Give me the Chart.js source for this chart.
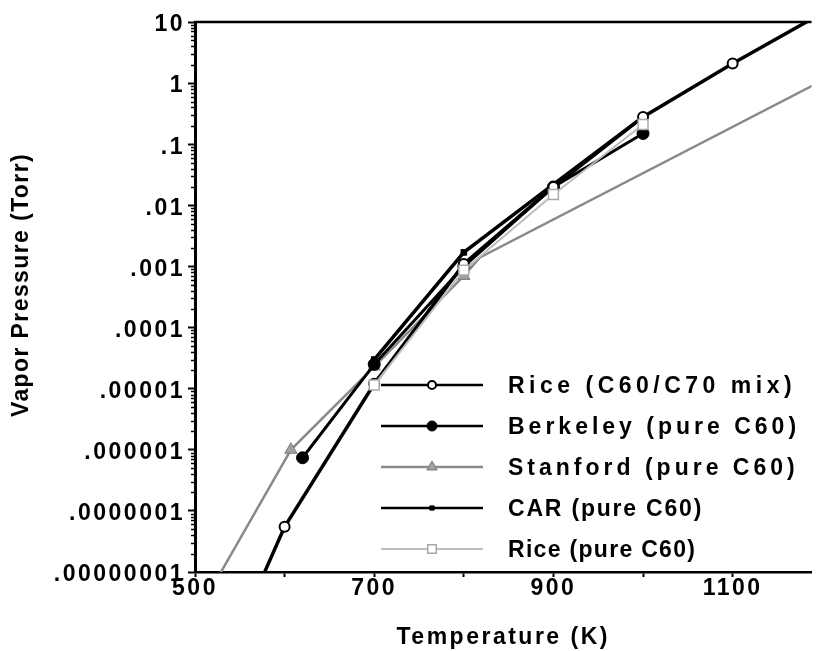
<!DOCTYPE html>
<html>
<head>
<meta charset="utf-8">
<title>C60 vapor pressure</title>
<script src="https://cdn.jsdelivr.net/npm/chart.js@4.4.1/dist/chart.umd.min.js"></script>
<style>
  html, body { margin: 0; padding: 0; background: #fff; }
  #wrap { width: 820px; height: 651px; }
</style>
</head>
<body>
<div id="wrap"><canvas id="vpChart" width="820" height="651"></canvas></div>
<script>
// temperature (K) / vapor pressure (Torr) per source
var riceMixT = [500, 600, 700, 800, 900, 1000, 1100, 1200];
var riceMixP = [2.6e-11, 5.5e-8, 1.2e-5, 1.1e-3, 0.02, 0.28, 2.1, 14];
var berkeleyT = [620, 700, 800, 900, 1000];
var berkeleyP = [7.4e-7, 2.5e-5, 1.0e-3, 0.02, 0.15];
var stanfordT = [500, 607, 700, 800, 818, 1200];
var stanfordP = [1.8e-9, 1e-6, 2.3e-5, 7e-4, 1.4e-3, 1.1];
var carT = [700, 800, 900, 1000];
var carP = [3e-5, 1.7e-3, 0.022, 0.28];
var ricePureT = [700, 800, 900, 1000];
var ricePureP = [1.15e-5, 8.7e-4, 0.015, 0.21];

var seriesNames = ['Rice (C60/C70 mix)', 'Berkeley (pure C60)', 'Stanford (pure C60)', 'CAR (pure C60)', 'Rice (pure C60)'];

var xTicks = [500, 600, 700, 800, 900, 1000, 1100];
var xTickLabels = ['500', '', '700', '', '900', '', '1100'];
var yTicks = [1e-8, 1e-7, 1e-6, 1e-5, 1e-4, 1e-3, 1e-2, 1e-1, 1, 10];
var yTickLabels = ['.00000001', '.0000001', '.000001', '.00001', '.0001', '.001', '.01', '.1', '1', '10'];

var FONT = 'Liberation Sans, Arial, Helvetica, sans-serif';
var yTitle = 'Vapor Pressure (Torr)';

function pts(xs, ys) {
    return xs.map(function (x, i) { return { x: x, y: ys[i] }; });
}

// wide letter spacing on the axis text
var spacingPlugin = {
    id: 'spacing',
    beforeDraw: function (chart) {
        chart.ctx.letterSpacing = '2.5px';
    }
};

// top frame line, small log minor ticks, rotated y title
var framePlugin = {
    id: 'frame',
    afterDraw: function (chart) {
        var ctx = chart.ctx;
        var a = chart.chartArea;
        var ys = chart.scales.y;
        ctx.save();
        ctx.strokeStyle = '#000';
        ctx.lineWidth = 2.5;
        ctx.beginPath();
        ctx.moveTo(a.left - 1, a.top);
        ctx.lineTo(a.right, a.top);
        ctx.stroke();
        ctx.lineWidth = 1.5;
        for (var d = -8; d < 1; d++) {
            for (var m = 2; m < 10; m++) {
                var py = Math.round(ys.getPixelForValue(m * Math.pow(10, d))) + 0.5;
                ctx.beginPath();
                ctx.moveTo(a.left - 4, py);
                ctx.lineTo(a.left, py);
                ctx.stroke();
            }
        }
        ctx.translate(22, (a.top + a.bottom) / 2 - 12);
        ctx.rotate(-Math.PI / 2);
        ctx.letterSpacing = '1.4px';
        ctx.font = 'bold 23px ' + FONT;
        ctx.fillStyle = '#000';
        ctx.textAlign = 'center';
        ctx.textBaseline = 'middle';
        ctx.fillText(yTitle, 0, 0);
        ctx.restore();
    }
};

// legend drawn inside the plot, lower right
var legendSpacing = ['4.5px', '4px', '4px', '1.8px', '1.3px'];
var boxLegend = {
    id: 'boxLegend',
    afterDraw: function (chart) {
        var ctx = chart.ctx;
        var top = 385, step = 41;
        var x0 = 381, x1 = 483, mx = 432, tx = 508;
        ctx.save();
        ctx.font = 'bold 23px ' + FONT;
        ctx.textBaseline = 'middle';
        ctx.textAlign = 'left';
        chart.data.datasets.forEach(function (ds, i) {
            var y = top + i * step;
            var r = Array.isArray(ds.pointRadius) ? ds.pointRadius[1] : ds.pointRadius;
            ctx.strokeStyle = ds.borderColor;
            ctx.lineWidth = Math.min(ds.borderWidth, 2.5);
            ctx.beginPath();
            ctx.moveTo(x0, y);
            ctx.lineTo(x1, y);
            ctx.stroke();
            ctx.fillStyle = ds.pointBackgroundColor;
            ctx.strokeStyle = ds.pointBorderColor;
            ctx.lineWidth = ds.pointBorderWidth;
            Chart.helpers.drawPoint(ctx, {
                pointStyle: ds.pointStyle,
                radius: r - 1,
                borderWidth: ds.pointBorderWidth,
                rotation: 0
            }, mx, y);
            ctx.fillStyle = '#000';
            ctx.letterSpacing = legendSpacing[i];
            ctx.fillText(ds.label, tx, y + 2);
        });
        ctx.restore();
    }
};

var ctx = document.getElementById('vpChart').getContext('2d');
var tickFont = { family: FONT, size: 23, weight: 'bold' };

var vpChart = new Chart(ctx, {
    type: 'line',
    data: {
        datasets: [{
            label: seriesNames[0],
            data: pts(riceMixT, riceMixP),
            borderColor: '#000',
            borderWidth: 3.5,
            pointStyle: 'circle',
            pointRadius: 5,
            pointBackgroundColor: '#fff',
            pointBorderColor: '#000',
            pointBorderWidth: 2
        }, {
            label: seriesNames[1],
            data: pts(berkeleyT, berkeleyP),
            borderColor: '#000',
            borderWidth: 3,
            pointStyle: 'circle',
            pointRadius: 6,
            pointBackgroundColor: '#000',
            pointBorderColor: '#000',
            pointBorderWidth: 1
        }, {
            label: seriesNames[2],
            data: pts(stanfordT, stanfordP),
            borderColor: '#8a8a8a',
            borderWidth: 2.5,
            pointStyle: 'triangle',
            // the bend just past 800 K carries no marker
            pointRadius: [7, 7, 7, 7, 0, 7],
            pointBackgroundColor: '#a0a0a0',
            pointBorderColor: '#7a7a7a',
            pointBorderWidth: 1
        }, {
            label: seriesNames[3],
            data: pts(carT, carP),
            borderColor: '#000',
            borderWidth: 3.5,
            pointStyle: 'rect',
            pointRadius: 4,
            pointBackgroundColor: '#000',
            pointBorderColor: '#000',
            pointBorderWidth: 1
        }, {
            label: seriesNames[4],
            data: pts(ricePureT, ricePureP),
            order: -1,
            borderColor: '#bdbdbd',
            borderWidth: 2,
            pointStyle: 'rect',
            pointRadius: 7,
            pointBackgroundColor: '#fff',
            pointBorderColor: '#a8a8a8',
            pointBorderWidth: 1.5
        }]
    },
    options: {
        responsive: false,
        animation: false,
        devicePixelRatio: 1,
        layout: { padding: { top: 22, right: 2, left: 0, bottom: 0 } },
        plugins: {
            legend: { display: false },
            tooltip: { enabled: false }
        },
        scales: {
            x: {
                type: 'linear',
                min: 500,
                max: 1188,
                afterBuildTicks: function (scale) {
                    scale.ticks = xTicks.map(function (v) { return { value: v }; });
                },
                afterFit: function (scale) { scale.height = 79; },
                ticks: {
                    color: '#000',
                    font: tickFont,
                    padding: -2,
                    maxRotation: 0,
                    autoSkip: false,
                    callback: function (v, i) { return xTickLabels[i]; }
                },
                grid: {
                    drawOnChartArea: false,
                    tickLength: 5,
                    tickWidth: 2,
                    tickColor: '#000'
                },
                border: { color: '#000', width: 2.5 },
                title: {
                    display: true,
                    text: 'Temperature (K)',
                    color: '#000',
                    font: { family: FONT, size: 23, weight: 'bold' },
                    padding: { top: 0, bottom: 0 }
                }
            },
            y: {
                type: 'logarithmic',
                min: 1e-8,
                max: 10,
                afterBuildTicks: function (scale) {
                    scale.ticks = yTicks.map(function (v) { return { value: v, major: true }; });
                },
                afterFit: function (scale) { scale.width = 195; },
                ticks: {
                    color: '#000',
                    font: tickFont,
                    padding: 3,
                    labelOffset: 3,
                    autoSkip: false,
                    callback: function (v, i) { return yTickLabels[i]; }
                },
                grid: {
                    drawOnChartArea: false,
                    tickLength: 7,
                    tickWidth: 2,
                    tickColor: '#000'
                },
                border: { color: '#000', width: 3 }
            }
        }
    },
    plugins: [spacingPlugin, framePlugin, boxLegend]
});
</script>
</body>
</html>
